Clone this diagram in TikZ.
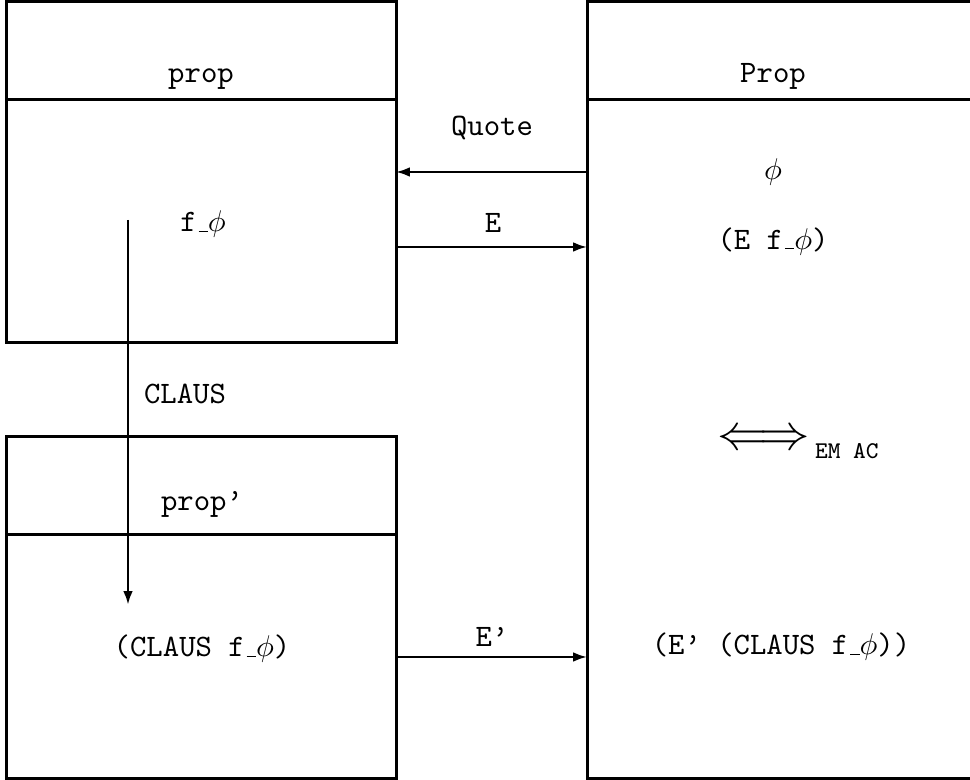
\documentclass[tikz,border=0pt]{standalone}
\usepackage{graphicx}
\usetikzlibrary{arrows.meta}
% short typewriter-style underscore, as plain LaTeX sets \_
\newcommand\usc{\kern.06em\vbox{\hrule width.3em}}
\newcommand\fphi{f\usc$\phi$}
\begin{document}
\begin{tikzpicture}[x=0.33333pt, y=-0.33333pt,
  every node/.style={font=\ttfamily\fontsize{10.4}{12}\selectfont, inner sep=0pt, outer sep=0pt},
  box/.style={draw, line width=1pt, minimum width=129.67pt},
  rule/.style={line width=1pt},
  conn/.style={line width=0.75pt, -{Latex[length=4.6pt,width=3.2pt]}},
  lbl/.style={anchor=base}]
\useasboundingbox (0,0) rectangle (970,780);
\clip (0,0) rectangle (970,780);

% the three frames
\node[box, minimum height=113.67pt] (A) at (201.5,172.5) {};
\node[box, minimum height=113.67pt] (B) at (201.5,607.5) {};
\node[box, minimum width=141pt, minimum height=258.67pt] (C) at (798.5,390) {};

% header rules
\coordinate (hA) at (0,100);
\coordinate (hB) at (0,535);
\draw[rule] (A.west |- hA) -- (A.east |- hA);
\draw[rule] (B.west |- hB) -- (B.east |- hB);
\draw[rule] (C.west |- hA) -- (C.east |- hA);

% headers
\node[lbl] (tA) at (201,83) {prop};
\node[lbl] (tB) at (202,511) {prop’};
\node[lbl] (tC) at (773,83) {Prop};

% contents
\node[lbl] (fphi) at (203,232) {\fphi};
\node[lbl] (cl) at (202,657) {(CLAUS \fphi)};
\node[lbl] (phi) at (773,179.5) {$\phi$};
\node[lbl] (ef) at (773,249.5) {(E \fphi)};
\node[lbl] (ecl) at (781,655) {(E’ (CLAUS \fphi))};
\node[lbl] (iff) at (764,450) {\scalebox{1.68}{$\Longleftrightarrow$}};
\node[anchor=base west, font=\ttfamily\fontsize{8}{10}\selectfont] (emac) at (815,459) {EM AC};

% connector labels
\node[lbl] (lq) at (492,136) {Quote};
\node[lbl] (le) at (493,233) {E};
\node[lbl] (le2) at (492,647) {E’};
\node[lbl] (lc) at (185,404) {CLAUS};

% connectors
\coordinate (yq) at (0,172);
\coordinate (ye) at (0,247);
\coordinate (ye2) at (0,657);
\coordinate (cs) at (128,220);
\coordinate (ce) at (128,605);
\draw[conn] (C.west |- yq) -- (A.east |- yq);
\draw[conn] (A.east |- ye) -- (C.west |- ye);
\draw[conn] (B.east |- ye2) -- (C.west |- ye2);
\draw[conn, line width=0.9pt] (cs) -- (ce);
\end{tikzpicture}
\end{document}
